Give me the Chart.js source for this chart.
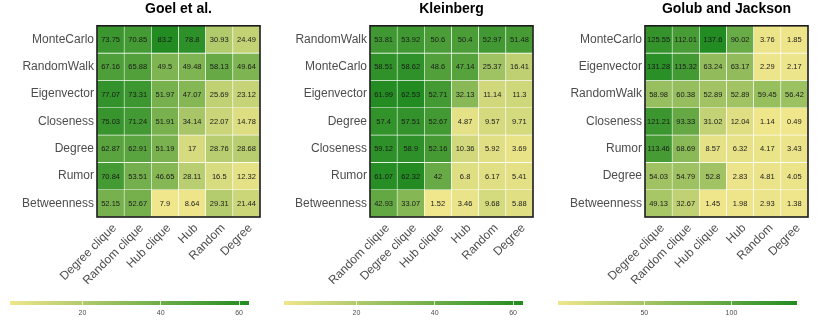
<!DOCTYPE html>
<html>
<head>
<meta charset="utf-8">
<script src="https://cdn.jsdelivr.net/npm/chart.js@4.4.1/dist/chart.umd.min.js"></script>
<style>
  body { margin: 0; background: #fff; width: 830px; height: 324px; position: relative; overflow: hidden; }
  canvas { position: absolute; }
</style>
</head>
<body>
<canvas id="heat-goel"></canvas>
<canvas id="heat-kleinberg"></canvas>
<canvas id="heat-golub"></canvas>
<canvas id="bar-goel"></canvas>
<canvas id="bar-kleinberg"></canvas>
<canvas id="bar-golub"></canvas>
<script>
// ---- data ----
const goelRows = ['MonteCarlo', 'RandomWalk', 'Eigenvector', 'Closeness', 'Degree', 'Rumor', 'Betweenness'];
const goelCols = ['Degree clique', 'Random clique', 'Hub clique', 'Hub', 'Random', 'Degree'];
const goelValues = [
    [73.75, 70.85, 83.2, 78.8, 30.93, 24.49],
    [67.16, 65.88, 49.5, 49.48, 58.13, 49.64],
    [77.07, 73.31, 51.97, 47.07, 25.69, 23.12],
    [75.03, 71.24, 51.91, 34.14, 22.07, 14.78],
    [62.87, 62.91, 51.19, 17, 28.76, 28.68],
    [70.84, 53.51, 46.65, 28.11, 16.5, 12.32],
    [52.15, 52.67, 7.9, 8.64, 29.31, 21.44]
];
const goelLegendRange = [1.52, 62.53];
const goelLegendTicks = [20, 40, 60];

const kleinbergRows = ['RandomWalk', 'MonteCarlo', 'Eigenvector', 'Degree', 'Closeness', 'Rumor', 'Betweenness'];
const kleinbergCols = ['Random clique', 'Degree clique', 'Hub clique', 'Hub', 'Random', 'Degree'];
const kleinbergValues = [
    [53.81, 53.92, 50.6, 50.4, 52.97, 51.48],
    [58.51, 58.62, 48.6, 47.14, 25.37, 16.41],
    [61.99, 62.53, 52.71, 32.13, 11.14, 11.3],
    [57.4, 57.51, 52.67, 4.87, 9.57, 9.71],
    [59.12, 58.9, 52.16, 10.36, 5.92, 3.69],
    [61.07, 62.32, 42, 6.8, 6.17, 5.41],
    [42.93, 33.07, 1.52, 3.46, 9.68, 5.88]
];
const kleinbergLegendRange = [1.52, 62.53];
const kleinbergLegendTicks = [20, 40, 60];

const golubRows = ['MonteCarlo', 'Eigenvector', 'RandomWalk', 'Closeness', 'Rumor', 'Degree', 'Betweenness'];
const golubCols = ['Degree clique', 'Random clique', 'Hub clique', 'Hub', 'Random', 'Degree'];
const golubValues = [
    [125.55, 112.01, 137.6, 90.02, 3.76, 1.85],
    [131.28, 115.32, 63.24, 63.17, 2.29, 2.17],
    [58.98, 60.38, 52.89, 52.89, 59.45, 56.42],
    [121.21, 93.33, 31.02, 12.04, 1.14, 0.49],
    [113.46, 68.69, 8.57, 6.32, 4.17, 3.43],
    [54.03, 54.79, 52.8, 2.83, 4.81, 4.05],
    [49.13, 32.67, 1.45, 1.98, 2.93, 1.38]
];
const golubLegendRange = [0.49, 137.6];
const golubLegendTicks = [50, 100];

// ---- styling ----
const FONT = '"Liberation Sans", Arial, sans-serif';
const LOW = [240, 230, 140];   // khaki
const HIGH = [34, 139, 34];    // forestgreen
const GREY = '#4d4d4d';

function mix(t) {
    t = Math.max(0, Math.min(1, t));
    const c = LOW.map((l, i) => Math.round(l + (HIGH[i] - l) * t));
    return `rgb(${c[0]},${c[1]},${c[2]})`;
}

const cellText = {
    id: 'cellText',
    afterDatasetsDraw(chart) {
        const ctx = chart.ctx;
        ctx.save();
        ctx.font = '7.5px ' + FONT;
        ctx.fillStyle = '#1a1a1a';
        ctx.textAlign = 'center';
        ctx.textBaseline = 'middle';
        chart.data.datasets.forEach((ds, i) => {
            chart.getDatasetMeta(i).data.forEach((bar, j) => {
                const p = bar.getCenterPoint();
                ctx.fillText(String(ds.values[j]), p.x, p.y + 0.5);
            });
        });
        ctx.restore();
    }
};

const frame = {
    id: 'frame',
    afterDraw(chart) {
        const a = chart.chartArea;
        const ctx = chart.ctx;
        ctx.save();
        ctx.strokeStyle = '#1a1a1a';
        ctx.lineWidth = 1.6;
        ctx.strokeRect(a.left, a.top, a.right - a.left, a.bottom - a.top);
        ctx.restore();
    }
};

function heatmap(id, title, rows, cols, values, box) {
    const canvas = document.getElementById(id);
    canvas.style.left = box.left + 'px';
    canvas.style.top = '0px';
    canvas.width = box.width;
    canvas.height = 292;
    const all = values.flat();
    const lo = Math.min(...all), hi = Math.max(...all);
    const n = rows.length;
    const datasets = rows.map((r, i) => ({
        label: r,
        values: values[i],
        data: cols.map(() => [n - 1 - i, n - i]),
        backgroundColor: values[i].map(v => mix((v - lo) / (hi - lo))),
        borderColor: '#ffffff',
        borderWidth: 0.6,
        borderSkipped: false,
        grouped: false,
        barPercentage: 1,
        categoryPercentage: 1
    }));
    new Chart(canvas, {
        type: 'bar',
        data: { labels: cols, datasets: datasets },
        options: {
            responsive: false,
            animation: false,
            layout: { padding: { left: 0, right: box.padRight, top: 0, bottom: 0 } },
            plugins: {
                legend: { display: false },
                tooltip: { enabled: false },
                title: {
                    display: true,
                    text: title,
                    fullSize: false,
                    color: '#000',
                    font: { family: FONT, size: 14, weight: 'bold' },
                    padding: { top: 1, bottom: 8 }
                }
            },
            scales: {
                x: {
                    type: 'category',
                    grid: { display: false, drawTicks: false },
                    border: { display: false },
                    ticks: {
                        autoSkip: false,
                        maxRotation: 45,
                        minRotation: 45,
                        padding: 4,
                        labelOffset: 4,
                        color: GREY,
                        font: { family: FONT, size: 12 }
                    },
                    afterFit(scale) { scale.height = 292 - 217; }
                },
                y: {
                    type: 'linear',
                    min: 0,
                    max: n,
                    grid: { display: false, drawTicks: false },
                    border: { display: false },
                    afterBuildTicks(scale) {
                        scale.ticks = rows.map((r, i) => ({ value: i + 0.5 }));
                    },
                    ticks: {
                        autoSkip: false,
                        padding: 3,
                        color: GREY,
                        font: { family: FONT, size: 12 },
                        callback: (v) => rows[n - 1 - Math.floor(v)]
                    },
                    afterFit(scale) { scale.width = box.axisWidth; }
                }
            }
        },
        plugins: [cellText, frame]
    });
}

function colorbar(id, range, ticks, left) {
    const canvas = document.getElementById(id);
    canvas.style.left = left + 'px';
    canvas.style.top = '296px';
    canvas.width = 239;
    canvas.height = 28;
    new Chart(canvas, {
        type: 'bar',
        data: {
            labels: [''],
            datasets: [{
                data: [range],
                backgroundColor(c) {
                    const a = c.chart.chartArea;
                    if (!a) return mix(0.5);
                    const g = c.chart.ctx.createLinearGradient(a.left, 0, a.right, 0);
                    g.addColorStop(0, mix(0));
                    g.addColorStop(1, mix(1));
                    return g;
                },
                borderWidth: 0,
                barPercentage: 1,
                categoryPercentage: 1
            }]
        },
        options: {
            indexAxis: 'y',
            responsive: false,
            animation: false,
            layout: { padding: { top: 5, left: 0, right: 0, bottom: 0 } },
            plugins: { legend: { display: false }, tooltip: { enabled: false } },
            scales: {
                x: {
                    type: 'linear',
                    min: range[0],
                    max: range[1],
                    afterBuildTicks(scale) {
                        scale.ticks = ticks.map(v => ({ value: v }));
                    },
                    grid: { color: 'rgba(255,255,255,0.7)', drawTicks: false, z: 1 },
                    border: { display: false },
                    ticks: { padding: 4, color: GREY, font: { family: FONT, size: 7 } },
                    afterFit(scale) { scale.height = 19; }
                },
                y: { display: false }
            }
        }
    });
}

heatmap('heat-goel', 'Goel et al.', goelRows, goelCols, goelValues,
    { left: 0, width: 270, axisWidth: 97, padRight: 10 });
heatmap('heat-kleinberg', 'Kleinberg', kleinbergRows, kleinbergCols, kleinbergValues,
    { left: 275, width: 270, axisWidth: 95, padRight: 12 });
heatmap('heat-golub', 'Golub and Jackson', golubRows, golubCols, golubValues,
    { left: 550, width: 280, axisWidth: 95, padRight: 22 });

colorbar('bar-goel', goelLegendRange, goelLegendTicks, 10);
colorbar('bar-kleinberg', kleinbergLegendRange, kleinbergLegendTicks, 284);
colorbar('bar-golub', golubLegendRange, golubLegendTicks, 558);
</script>
</body>
</html>
